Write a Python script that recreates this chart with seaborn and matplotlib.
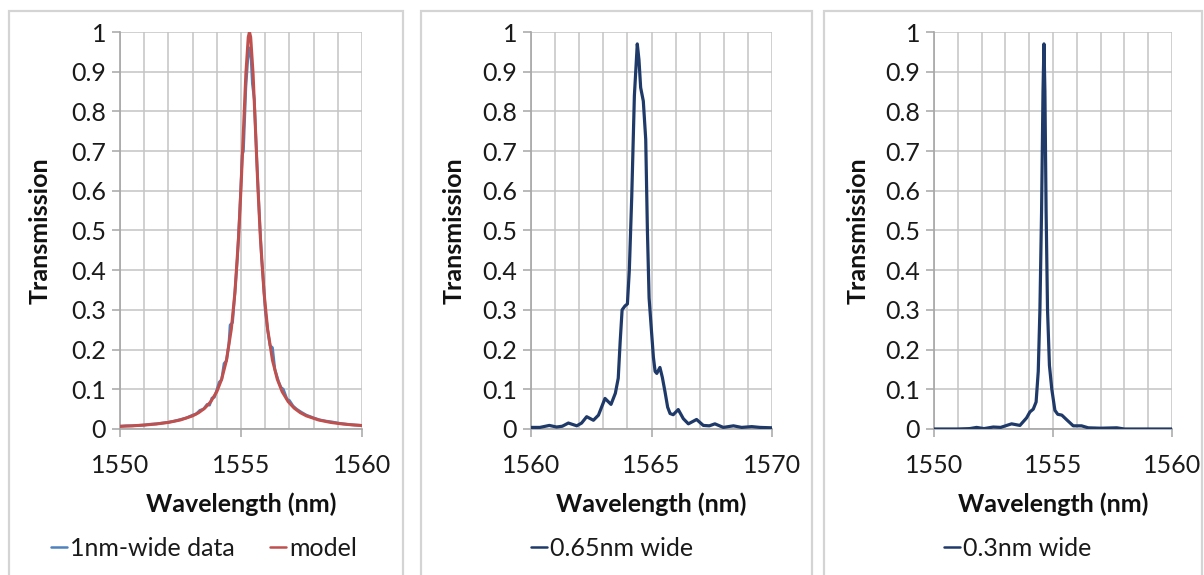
import matplotlib
matplotlib.use("Agg")
import matplotlib.pyplot as plt
from matplotlib.patches import Rectangle
from matplotlib.ticker import MultipleLocator, FuncFormatter
import seaborn as sns

# ---- 1 nm wide filter: measured data and Lorentzian model ----
wl_data_1nm = [1550.0, 1550.25, 1550.5, 1550.75, 1551.0, 1551.25, 1551.5, 1551.75,
               1552.0, 1552.25, 1552.5, 1552.75, 1553.0, 1553.15, 1553.3, 1553.45,
               1553.6, 1553.7, 1553.8, 1553.9, 1554.0, 1554.1, 1554.2, 1554.3,
               1554.4, 1554.5, 1554.55, 1554.65, 1554.75, 1554.85, 1554.95, 1555.05,
               1555.1, 1555.2, 1555.3, 1555.35, 1555.42, 1555.47, 1555.55, 1555.65,
               1555.75, 1555.85, 1555.95, 1556.0, 1556.1, 1556.2, 1556.3, 1556.4,
               1556.55, 1556.65, 1556.75, 1556.9, 1557.0, 1557.15, 1557.3, 1557.5,
               1557.7, 1558.0, 1558.25, 1558.5, 1558.75, 1559.0, 1559.25, 1559.5,
               1559.75, 1560.0]
tr_data_1nm = [0.007, 0.008, 0.008, 0.009, 0.010, 0.012, 0.013, 0.015,
               0.017, 0.020, 0.024, 0.028, 0.035, 0.038, 0.047, 0.050,
               0.062, 0.060, 0.078, 0.080, 0.098, 0.118, 0.124, 0.165,
               0.172, 0.215, 0.262, 0.268, 0.345, 0.430, 0.550, 0.690,
               0.700, 0.860, 0.950, 0.960, 0.930, 0.870, 0.830, 0.680,
               0.550, 0.430, 0.350, 0.300, 0.250, 0.210, 0.205, 0.150,
               0.120, 0.105, 0.100, 0.075, 0.072, 0.058, 0.050, 0.042,
               0.035, 0.028, 0.023, 0.020, 0.018, 0.015, 0.013, 0.011,
               0.010, 0.009]

wl_model = [1550.0, 1550.5, 1551.0, 1551.5, 1552.0, 1552.5, 1553.0, 1553.25,
            1553.5, 1553.75, 1554.0, 1554.2, 1554.4, 1554.6, 1554.75, 1554.9,
            1555.0, 1555.1, 1555.2, 1555.3, 1555.35, 1555.4, 1555.5, 1555.6,
            1555.7, 1555.8, 1555.95, 1556.1, 1556.3, 1556.5, 1556.7, 1556.95,
            1557.2, 1557.45, 1557.7, 1558.2, 1558.7, 1559.2, 1559.7, 1560.0]
tr_model = [0.0066, 0.0080, 0.0099, 0.0126, 0.0166, 0.0228, 0.0331, 0.0411,
            0.0524, 0.0688, 0.0941, 0.1252, 0.1733, 0.2517, 0.3445, 0.4830,
            0.6070, 0.7517, 0.8937, 0.9870, 1.0000, 0.9870, 0.8937, 0.7517,
            0.6070, 0.4830, 0.3445, 0.2517, 0.1733, 0.1252, 0.0941, 0.0688,
            0.0524, 0.0411, 0.0331, 0.0228, 0.0166, 0.0126, 0.0099, 0.0087]

# ---- 0.65 nm wide filter ----
wl_065 = [1560.0, 1560.37, 1560.76, 1561.06, 1561.3, 1561.55, 1561.9, 1562.1,
          1562.31, 1562.59, 1562.8, 1563.07, 1563.32, 1563.5, 1563.62, 1563.7,
          1563.78, 1563.9, 1564.0, 1564.08, 1564.18, 1564.29, 1564.41, 1564.48,
          1564.55, 1564.66, 1564.76, 1564.83, 1564.9, 1565.0, 1565.08, 1565.15,
          1565.22, 1565.35, 1565.45, 1565.56, 1565.67, 1565.77, 1565.9, 1566.11,
          1566.32, 1566.53, 1566.87, 1567.15, 1567.4, 1567.63, 1567.98, 1568.4,
          1568.74, 1569.16, 1569.5, 1570.0]
tr_065 = [0.004, 0.004, 0.009, 0.005, 0.007, 0.015, 0.008, 0.015,
          0.031, 0.022, 0.035, 0.077, 0.062, 0.090, 0.128, 0.220,
          0.300, 0.310, 0.315, 0.400, 0.585, 0.840, 0.970, 0.930,
          0.860, 0.826, 0.730, 0.500, 0.330, 0.246, 0.180, 0.145,
          0.140, 0.155, 0.130, 0.094, 0.055, 0.039, 0.036, 0.049,
          0.026, 0.013, 0.024, 0.009, 0.008, 0.013, 0.004, 0.008,
          0.004, 0.006, 0.004, 0.003]

# ---- 0.3 nm wide filter ----
wl_03 = [1550.0, 1551.0, 1551.5, 1551.79, 1552.1, 1552.49, 1552.8, 1553.26,
         1553.61, 1553.89, 1554.03, 1554.17, 1554.29, 1554.38, 1554.45, 1554.52,
         1554.58, 1554.62, 1554.66, 1554.71, 1554.77, 1554.85, 1554.95, 1555.08,
         1555.2, 1555.37, 1555.58, 1555.85, 1556.2, 1556.48, 1557.0, 1557.68,
         1558.0, 1559.0, 1560.0]
tr_03 = [0.000, 0.000, 0.001, 0.004, 0.001, 0.005, 0.004, 0.013,
         0.009, 0.028, 0.043, 0.050, 0.068, 0.145, 0.300, 0.550,
         0.850, 0.970, 0.850, 0.550, 0.300, 0.160, 0.100, 0.047,
         0.037, 0.035, 0.023, 0.008, 0.008, 0.003, 0.002, 0.003,
         0.000, 0.000, 0.000]

x_ranges = [(1550, 1560), (1560, 1570), (1550, 1560)]

sns.set_theme(style="white")
plt.rcParams["font.family"] = ["Lato", "DejaVu Sans"]
plt.rcParams["legend.handleheight"] = 0.7

W, H = 1204, 575
fig = plt.figure(figsize=(W / 100, H / 100), dpi=100)
fig.patch.set_facecolor("white")


def fx(px):
    return px / W


def fy(py):
    return 1 - py / H


# chart-area frames around each panel
for left, right in [(9, 403), (421, 812), (824, 1202)]:
    fig.add_artist(Rectangle((fx(left), fy(590)), fx(right - left), (590 - 11) / H,
                             transform=fig.transFigure, fill=False,
                             edgecolor="#d4d4d4", lw=1.6, zorder=0))

plot_boxes = [(120, 242), (531, 241), (934, 238)]
ylabel_right = [52, 466, 870]
legend_centers = [204, 612, 1018]

axes = []
for left, width in plot_boxes:
    ax = fig.add_axes([fx(left), fy(429), fx(width), 397 / H])
    axes.append(ax)

NAVY = "#1f3a68"

sns.lineplot(x=wl_data_1nm, y=tr_data_1nm, ax=axes[0], color="#4f81bd", lw=2.0,
             estimator=None, label="1nm-wide data", zorder=3)
sns.lineplot(x=wl_model, y=tr_model, ax=axes[0], color="#c0504d", lw=2.2,
             estimator=None, label="model", zorder=4)
sns.lineplot(x=wl_065, y=tr_065, ax=axes[1], color=NAVY, lw=2.3,
             estimator=None, label="0.65nm wide", zorder=3)
sns.lineplot(x=wl_03, y=tr_03, ax=axes[2], color=NAVY, lw=2.3,
             estimator=None, label="0.3nm wide", zorder=3)

for ax, (x0, x1), (left, width), yr, lc in zip(axes, x_ranges, plot_boxes,
                                               ylabel_right, legend_centers):
    ax.set_xlim(x0, x1)
    ax.set_ylim(0, 1)
    ax.xaxis.set_major_locator(MultipleLocator(5))
    ax.xaxis.set_minor_locator(MultipleLocator(1))
    ax.yaxis.set_major_locator(MultipleLocator(0.1))
    ax.yaxis.set_major_formatter(FuncFormatter(lambda v, _: f"{v:.1f}".rstrip("0").rstrip(".")))
    ax.grid(True, which="both", axis="x", color="#c4c4c4", lw=1.1)
    ax.grid(True, which="major", axis="y", color="#c4c4c4", lw=1.1)
    ax.set_axisbelow(True)
    for side in ("top", "right"):
        ax.spines[side].set_visible(False)
    for side in ("left", "bottom"):
        ax.spines[side].set_color("#a6a6a6")
        ax.spines[side].set_linewidth(1.2)
    ax.tick_params(axis="both", which="major", direction="out", length=6, width=1.1,
                   color="#a6a6a6", labelsize=18, labelcolor="#1a1a1a")
    ax.tick_params(axis="x", which="major", pad=12)
    ax.tick_params(axis="y", which="major", pad=4)
    ax.tick_params(axis="x", which="minor", length=0)
    ax.tick_params(bottom=True, left=True)
    ax.set_xlabel("Wavelength (nm)", fontsize=18, fontweight="bold", color="#111111")
    ax.set_ylabel("Transmission", fontsize=18, fontweight="bold", color="#111111")
    ax.xaxis.set_label_coords(0.5, -0.16)
    ax.yaxis.set_label_coords((yr - left) / width, 0.5)
    ax.legend(loc="center", bbox_to_anchor=(fx(lc), fy(548)), bbox_transform=fig.transFigure,
              frameon=False, ncol=2, fontsize=18, handlelength=0.65, handletextpad=0.12,
              columnspacing=1.4, labelcolor="#1a1a1a")
    for line in ax.get_legend().get_lines():
        line.set_linewidth(1.8)

fig.savefig("out.png", dpi=100, facecolor="white")
